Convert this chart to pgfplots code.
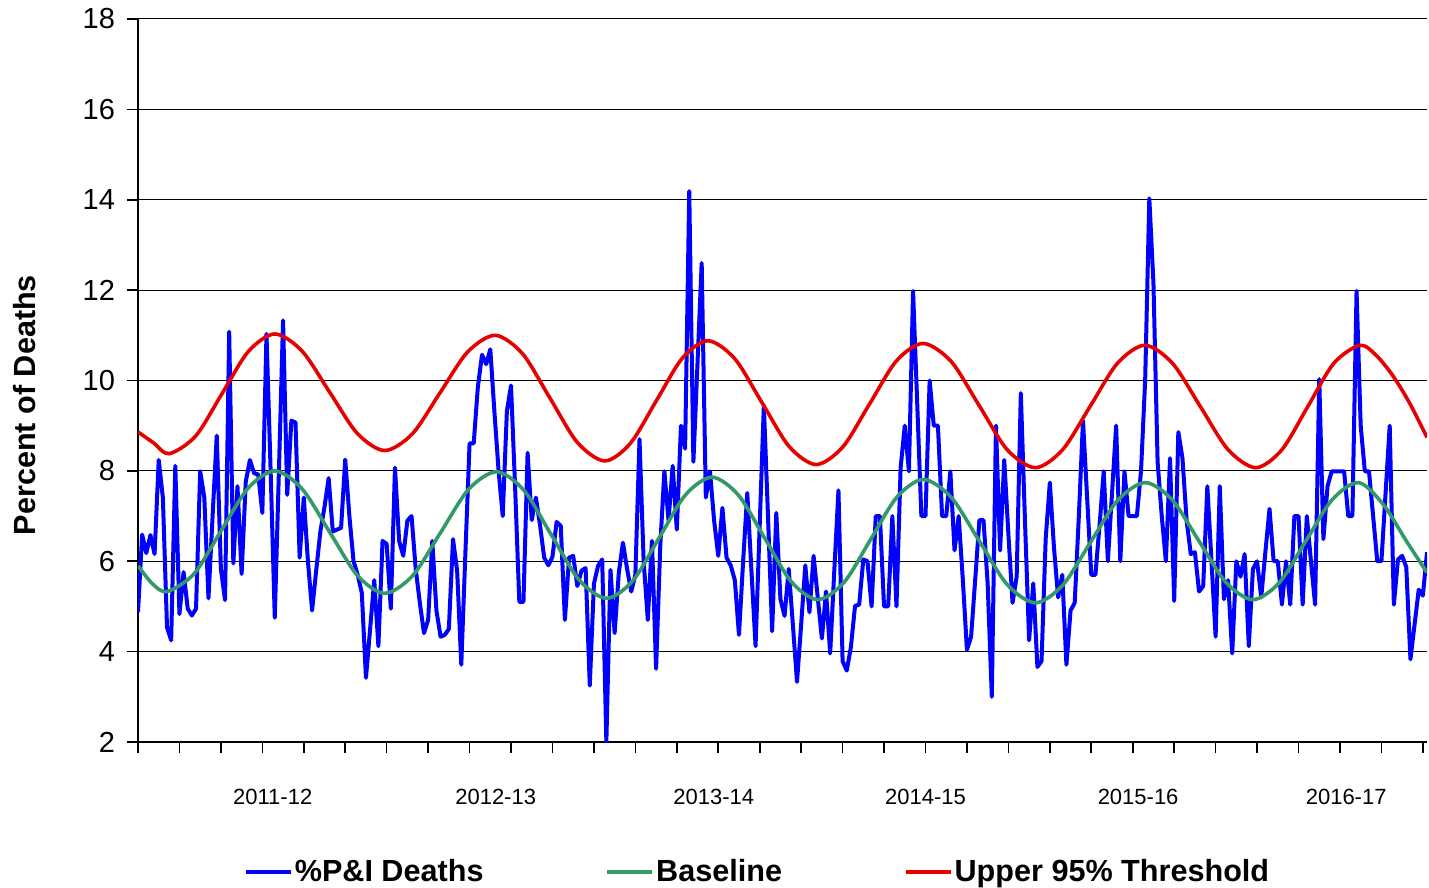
\documentclass[border=0pt]{standalone}
\usepackage{pgfplots}
\pgfplotsset{compat=1.18}
\usepackage{pgfplotstable}
\usepackage{fontspec}
\setmainfont{Liberation Sans}
\definecolor{piblue}{RGB}{0,0,255}
\definecolor{basegreen}{RGB}{51,153,102}
\definecolor{thred}{RGB}{230,0,0}
\pgfplotstableread{
v
4.87
6.59
6.18
6.58
6.16
8.24
7.41
4.54
4.25
8.11
4.83
5.76
4.95
4.80
4.95
7.99
7.41
5.18
7.0
8.78
5.83
5.14
11.08
5.95
7.66
5.72
7.76
8.24
7.95
7.92
7.07
11.03
8.0
4.75
8.0
11.33
7.47
9.11
9.07
6.08
7.41
6.0
4.91
5.8
6.66
7.2
7.84
6.66
6.7
6.74
8.25
7.0
6.0
5.7
5.3
3.42
4.5
5.58
4.12
6.45
6.38
4.95
8.07
6.45
6.12
6.9
7.0
5.83
5.08
4.41
4.7
6.45
4.91
4.33
4.37
4.5
6.49
5.79
3.71
6.2
8.61
8.61
9.86
10.57
10.36
10.69
9.3
8.0
7.0
9.32
9.89
7.6
5.1
5.1
8.4
6.91
7.41
6.8
6.08
5.91
6.1
6.87
6.78
4.7
6.08
6.12
5.45
5.79
5.85
3.25
5.5
5.9
6.04
2.0
5.81
4.41
5.74
6.41
5.83
5.33
5.7
8.7
6.0
4.7
6.45
3.62
6.33
7.99
6.9
8.11
6.7
9.0
8.49
14.19
8.2
10.4
12.6
7.41
7.99
6.9
6.12
7.18
6.08
5.91
5.58
4.37
6.0
7.51
5.8
4.12
6.8
9.45
7.0
4.45
7.07
5.16
4.79
5.83
4.6
3.33
4.6
5.91
4.87
6.12
5.2
4.29
5.33
3.96
5.8
7.57
3.79
3.58
4.1
5.01
5.04
6.04
6.0
5.0
7.0
7.0
5.0
5.0
7.0
5.0
8.07
9.0
7.99
11.98
9.5
7.0
7.0
10.0
9.0
9.0
7.0
7.0
7.99
6.24
7.0
5.6
4.04
4.33
5.6
6.91
6.91
5.5
3.0
9.0
6.24
8.24
6.6
5.08
5.66
9.72
6.9
4.25
5.51
3.66
3.79
6.5
7.74
6.3
5.2
5.7
3.71
4.91
5.08
7.0
9.11
7.4
5.7
5.7
6.8
7.99
6.0
7.5
9.0
6.0
7.99
7.0
7.0
7.0
8.0
10.0
14.03
12.15
8.2
7.0
6.0
8.28
5.12
8.86
8.28
6.9
6.16
6.2
5.33
5.45
7.66
6.0
4.33
7.66
5.16
5.58
3.96
6.0
5.66
6.16
4.12
5.83
6.0
5.2
6.2
7.16
6.0
6.0
5.04
6.0
5.04
7.0
7.0
5.04
7.0
6.0
5.04
10.03
6.49
7.66
7.99
7.99
7.99
7.99
7.0
7.0
11.98
9.0
7.99
7.99
7.0
6.0
6.0
7.5
9.0
5.04
6.04
6.12
5.87
3.83
4.6
5.37
5.24
6.2
}\pidata
\pgfplotstableread{
x y
0 5.9
3.5 5.5
7 5.33
13.5 5.72
20 6.665
26.5 7.61
33 8.0
39.6 7.60
46.25 6.645
52.9 5.69
59.5 5.29
66.25 5.68
73 6.635
79.75 7.59
86.5 7.98
93.1 7.57
99.75 6.58
106.4 5.59
113 5.18
119.4 5.57
125.75 6.52
132.1 7.47
138.5 7.86
144.9 7.46
151.25 6.505
157.6 5.55
164 5.15
170.4 5.54
176.75 6.48
183.1 7.42
189.5 7.81
196.25 7.41
203 6.445
209.75 5.48
216.5 5.08
223.1 5.47
229.75 6.41
236.4 7.35
243 7.74
249.5 7.36
256 6.445
262.5 5.53
269 5.15
275.4 5.53
281.75 6.445
288.1 7.36
294.5 7.74
300.5 7.25
306 6.45
311 5.75
}\basedata
\pgfplotstableread{
x y
0 8.86
3.75 8.62
7.5 8.38
13.9 8.77
20.25 9.705
26.6 10.64
33 11.03
39.6 10.65
46.25 9.74
52.9 8.83
59.5 8.45
66.2 8.82
72.85 9.725
79.5 10.63
86.2 11.0
92.8 10.59
99.4 9.61
106 8.63
112.6 8.22
118.8 8.61
125.05 9.55
131.3 10.49
137.5 10.88
144 10.48
150.55 9.51
157.1 8.54
163.6 8.14
170.05 8.53
176.5 9.48
182.95 10.43
189.4 10.82
196.2 10.42
202.95 9.445
209.7 8.47
216.5 8.07
223.1 8.47
229.7 9.425
236.3 10.38
242.9 10.78
249.6 10.38
256.3 9.425
263 8.47
269.7 8.07
276 8.47
282.25 9.425
288.5 10.38
294.8 10.78
298.8 10.55
302.8 10.1
306.8 9.5
311 8.74
}\thrdata
\begin{document}
\begin{tikzpicture}
\useasboundingbox (-69pt,-73pt) rectangle (645.5pt,371pt);
\begin{axis}[
  at={(0pt,0pt)}, anchor=south west,
  width=644.5pt, height=361.5pt, scale only axis,
  xmin=0, xmax=311, ymin=2, ymax=18,
  axis x line*=bottom, axis y line*=left,
  axis line style={black, line width=0.8pt},
  tick align=outside,
  major tick length=5.5pt,
  tick style={black, line width=0.8pt},
  ytick={2,4,...,18},
  ymajorgrids,
  grid style={black, line width=0.5pt},
  xtick={0,10,...,310},
  xticklabels={},
  extra x ticks={32.5,86.3,138.9,190,241.3,291.5},
  extra x tick labels={2011-12,2012-13,2013-14,2014-15,2015-16,2016-17},
  extra x tick style={major tick length=0pt, xticklabel style={yshift=-20pt}},
  /pgf/number format/assume math mode=true,
  yticklabel style={font=\fontsize{14.5}{14.5}\selectfont, xshift=-2.5pt},
  xticklabel style={font=\fontsize{11}{11}\selectfont},
  ylabel={Percent of Deaths},
  ylabel style={at={(axis description cs:-0.0877,0.466)}, anchor=center, font=\bfseries\fontsize{15.3}{15.3}\selectfont},
  legend columns=3,
  legend style={at={(axis description cs:0.4806,-0.18)}, anchor=center, draw=none, fill=none,
    font=\bfseries\fontsize{15.3}{15.3}\selectfont,
    nodes={inner sep=1pt},
    /tikz/every even column/.append style={column sep=60pt}},
  legend image code/.code={\draw[#1] (0pt,0pt) -- (22.5pt,0pt);},
  clip=true,
]
\addplot[piblue, line width=2pt, line join=round, no marks] table[x expr=\coordindex, y=v] {\pidata};
\addlegendentry{\%P\&I Deaths}
\addplot[basegreen, line width=1.8pt, smooth, no marks] table[x=x, y=y] {\basedata};
\addlegendentry{Baseline}
\addplot[thred, line width=1.8pt, smooth, no marks] table[x=x, y=y] {\thrdata};
\addlegendentry{Upper 95\% Threshold}
\end{axis}
\end{tikzpicture}
\end{document}
